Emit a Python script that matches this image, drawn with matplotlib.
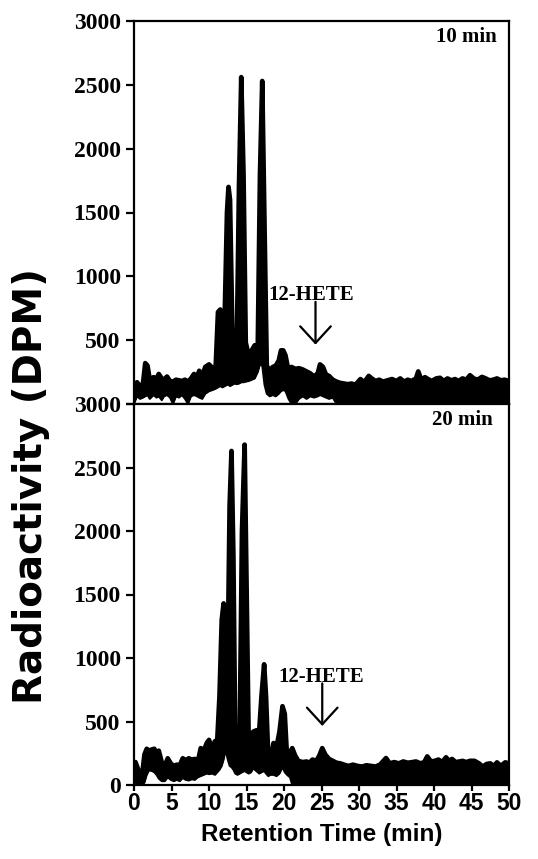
import matplotlib
matplotlib.use("Agg")
import matplotlib.pyplot as plt

# ---------------- data ----------------
# 10 min panel: retention time (min), upper and lower edge of the trace (DPM)
t_10 = [0.0, 0.4, 0.8, 1.2, 1.5, 1.8, 2.1, 2.6, 3.0, 3.3, 3.7, 4.0, 4.4, 4.8, 5.2, 5.6,
        6.0, 6.4, 6.8, 7.2, 7.6, 8.0, 8.4, 8.7, 9.1, 9.5, 10.0, 10.5, 10.9, 11.2, 11.5,
        11.8, 12.1, 12.4, 12.6, 12.8, 13.1, 13.4, 13.7, 14.0, 14.3, 14.6, 14.9, 15.3,
        15.7, 16.1, 16.5, 16.8, 17.1, 17.4, 17.7, 18.1, 18.5, 18.9, 19.3, 19.6, 19.9,
        20.2, 20.6, 21.0, 21.5, 22.0, 22.5, 23.0, 23.5, 24.0, 24.5, 24.8, 25.2, 25.6,
        26.0, 26.5, 27.0, 27.5, 28.0, 28.5, 29.0, 29.5, 30.2, 30.7, 31.3, 31.7, 32.2,
        32.7, 33.2, 33.8, 34.4, 35.0, 35.5, 36.0, 36.5, 37.0, 37.6, 37.9, 38.3, 38.8,
        39.2, 39.7, 40.3, 40.8, 41.3, 41.8, 42.3, 42.8, 43.3, 43.8, 44.3, 44.8, 45.3,
        45.8, 46.4, 46.9, 47.4, 47.9, 48.4, 48.9, 49.4, 50.0]
hi_10 = [150, 170, 140, 160, 320, 300, 190, 210, 200, 235, 200, 190, 215, 180, 175, 190,
         185, 180, 190, 175, 200, 235, 210, 260, 220, 290, 310, 280, 300, 720, 740,
         640, 700, 1500, 1700, 1600, 600, 400, 420, 1700, 2560, 1800, 480, 380,
         420, 460, 430, 1800, 2530, 1400, 300, 260, 290, 300, 340, 420, 420,
         380, 260, 290, 275, 280, 270, 255, 240, 215, 240, 310, 290, 230,
         220, 190, 175, 165, 160, 155, 160, 150, 195, 170, 220, 200, 180,
         190, 175, 185, 195, 180, 200, 175, 190, 180, 200, 255, 190, 210,
         195, 180, 200, 205, 180, 200, 185, 195, 180, 200, 190, 225, 200,
         190, 212, 200, 185, 190, 200, 185, 190, 180]
lo_10 = [0, 60, 40, 50, 60, 70, 40, 70, 50, 60, 30, 60, 70, 50, 0, 60,
         50, 70, 40, 0, 60, 70, 60, 50, 40, 80, 100, 110, 120, 130, 140,
         130, 140, 150, 150, 140, 150, 160, 155, 160, 170, 170, 175, 180,
         190, 200, 250, 310, 300, 150, 80, 60, 70, 60, 80, 100, 110,
         100, 40, 0, 0, 40, 60, 40, 60, 50, 60, 70, 60, 50,
         40, 50, 0, 10, 0, 10, 0, 10, 0, 10, 0, 10, 0,
         10, 0, 10, 0, 10, 0, 10, 0, 10, 0, 10, 0, 10,
         0, 10, 0, 10, 0, 10, 0, 10, 0, 10, 0, 10, 0,
         10, 0, 10, 0, 10, 0, 10, 0, 10]

# 20 min panel
t_20 = [0.0, 0.2, 0.5, 0.8, 1.1, 1.4, 1.7, 2.0, 2.4, 2.7, 3.0, 3.3, 3.7, 4.1, 4.5, 4.9,
        5.3, 5.7, 6.1, 6.5, 6.9, 7.3, 7.7, 8.1, 8.5, 8.9, 9.3, 9.7, 10.0, 10.4, 10.8,
        11.1, 11.4, 11.7, 11.95, 12.2, 12.5, 12.75, 13.0, 13.25, 13.5, 13.8, 14.1, 14.4,
        14.75, 15.0, 15.3, 15.6, 15.9, 16.3, 16.7, 17.0, 17.35, 17.6, 17.9, 18.2, 18.6,
        19.0, 19.4, 19.8, 20.1, 20.4, 20.8, 21.1, 21.5, 21.9, 22.5, 23.0, 23.4, 23.8,
        24.3, 24.7, 25.1, 25.5, 26.0, 26.5, 27.0, 27.5, 28.0, 28.6, 29.2, 29.8, 30.4,
        31.0, 31.6, 32.2, 32.8, 33.6, 34.1, 34.7, 35.3, 35.9, 36.5, 37.1, 37.6, 38.2,
        38.7, 39.1, 39.6, 40.1, 40.6, 41.1, 41.6, 42.0, 42.4, 42.9, 43.4, 43.8, 44.3,
        44.8, 45.4, 46.0, 46.5, 47.0, 47.5, 48.0, 48.4, 48.9, 49.5, 50.0]
hi_20 = [120, 180, 130, 80, 90, 240, 285, 270, 280, 285, 250, 270, 180, 150, 210, 170,
         150, 160, 155, 210, 195, 210, 200, 205, 180, 290, 270, 330, 355, 290, 345,
         350, 700, 1300, 1430, 1050, 1000, 2200, 2630, 1800, 350, 150, 400, 2000,
         2680, 1600, 300, 180, 420, 430, 430, 700, 950, 700, 220, 200, 330,
         300, 420, 620, 560, 220, 260, 290, 230, 190, 180, 185, 175, 200,
         190, 230, 290, 240, 205, 190, 175, 170, 160, 150, 160, 150, 145,
         155, 150, 145, 160, 212, 170, 180, 170, 185, 175, 180, 185, 170,
         180, 225, 185, 190, 200, 180, 218, 190, 205, 180, 185, 190, 180,
         190, 190, 170, 144, 165, 170, 150, 178, 150, 178, 170]
lo_20 = [0, 0, 0, 0, 0, 20, 80, 115, 110, 100, 80, 50, 30, 30, 60, 40,
         30, 40, 30, 55, 40, 35, 45, 40, 60, 70, 80, 90, 85, 90, 80,
         100, 120, 150, 200, 275, 200, 150, 140, 120, 90, 80, 90, 100,
         110, 100, 90, 100, 130, 110, 90, 100, 110, 90, 70, 80, 80,
         70, 90, 140, 100, 80, 60, 0, 0, 0, 0, 0, 0, 0,
         0, 0, 0, 0, 0, 0, 0, 0, 0, 0, 0, 0, 0,
         0, 0, 0, 0, 0, 0, 0, 0, 0, 0, 0, 0, 0,
         0, 0, 0, 0, 0, 0, 0, 0, 0, 0, 0, 0, 0,
         0, 0, 0, 0, 0, 0, 0, 0, 0, 0, 0]

x_ticks = [0, 5, 10, 15, 20, 25, 30, 35, 40, 45, 50]
y_ticks = [0, 500, 1000, 1500, 2000, 2500, 3000]
panel_labels = ["10 min", "20 min"]
peak_label = "12-HETE"
hete_arrow_time = [24.2, 25.1]
hete_text_time = [23.6, 24.9]

# ---------------- figure ----------------
W, H = 538, 859
fig = plt.figure(figsize=(W / 100, H / 100), dpi=100)
fig.patch.set_facecolor("white")

def frac_box(l, t, r, b):
    return [l / W, 1 - b / H, (r - l) / W, (b - t) / H]

ax_top = fig.add_axes(frac_box(134, 21, 509, 404))
ax_bot = fig.add_axes(frac_box(134, 404, 509, 785))

serif_bold = dict(family="Liberation Serif", weight="bold")

panels = [
    (ax_top, t_10, hi_10, lo_10, panel_labels[0], hete_arrow_time[0], hete_text_time[0], 0.968),
    (ax_bot, t_20, hi_20, lo_20, panel_labels[1], hete_arrow_time[1], hete_text_time[1], 0.958),
]
for ax, t, hi, lo, lab, ha_t, ht_t, lab_x in panels:
    ax.fill_between(t, lo, hi, color="black", lw=0)
    ax.plot(t, hi, color="black", lw=3.4, solid_joinstyle="round", solid_capstyle="round")
    ax.plot(t, lo, color="black", lw=1.4)
    ax.set_xlim(0, 50)
    ax.set_ylim(0, 3000)
    ax.set_yticks(y_ticks)
    for sp in ax.spines.values():
        sp.set_linewidth(1.6)
    ax.tick_params(axis="y", direction="out", length=6, width=1.6, pad=3.5)
    for tl in ax.get_yticklabels():
        tl.set_fontfamily("Liberation Serif")
        tl.set_fontweight("bold")
        tl.set_fontsize(17)
    ax.text(lab_x, 0.957, lab, transform=ax.transAxes, ha="right", va="center",
            fontsize=15, **serif_bold)
    ax.text(ht_t, 850, peak_label, ha="center", va="center", fontsize=15, **serif_bold)
    ax.annotate("", xy=(ha_t, 465), xytext=(ha_t, 800),
                arrowprops=dict(arrowstyle="->,head_length=0.6,head_width=0.55",
                                lw=1.6, color="black", mutation_scale=20,
                                shrinkA=0, shrinkB=0))

ax_top.set_yticklabels([""] + [str(v) for v in y_ticks[1:]])
ax_top.set_xticks(x_ticks)
ax_top.tick_params(axis="x", length=0, labelbottom=False)

ax_bot.set_xticks(x_ticks)
ax_bot.set_xticklabels([str(v) for v in x_ticks])
ax_bot.tick_params(axis="x", direction="out", length=4, width=1.6, pad=1)
for tl in ax_bot.get_xticklabels():
    tl.set_fontfamily("Liberation Sans")
    tl.set_fontweight("bold")
    tl.set_fontsize(16.5)

fig.text(322 / W, 1 - 834 / H, "Retention Time (min)", ha="center", va="center",
         fontsize=17.5, family="Liberation Sans", weight="bold")
fig.text(31 / W, 1 - 486 / H, "Radioactivity (DPM)", ha="center", va="center",
         rotation=90, fontsize=28, family="DejaVu Sans", weight="bold")

fig.savefig("out.png", dpi=100, facecolor="white")
